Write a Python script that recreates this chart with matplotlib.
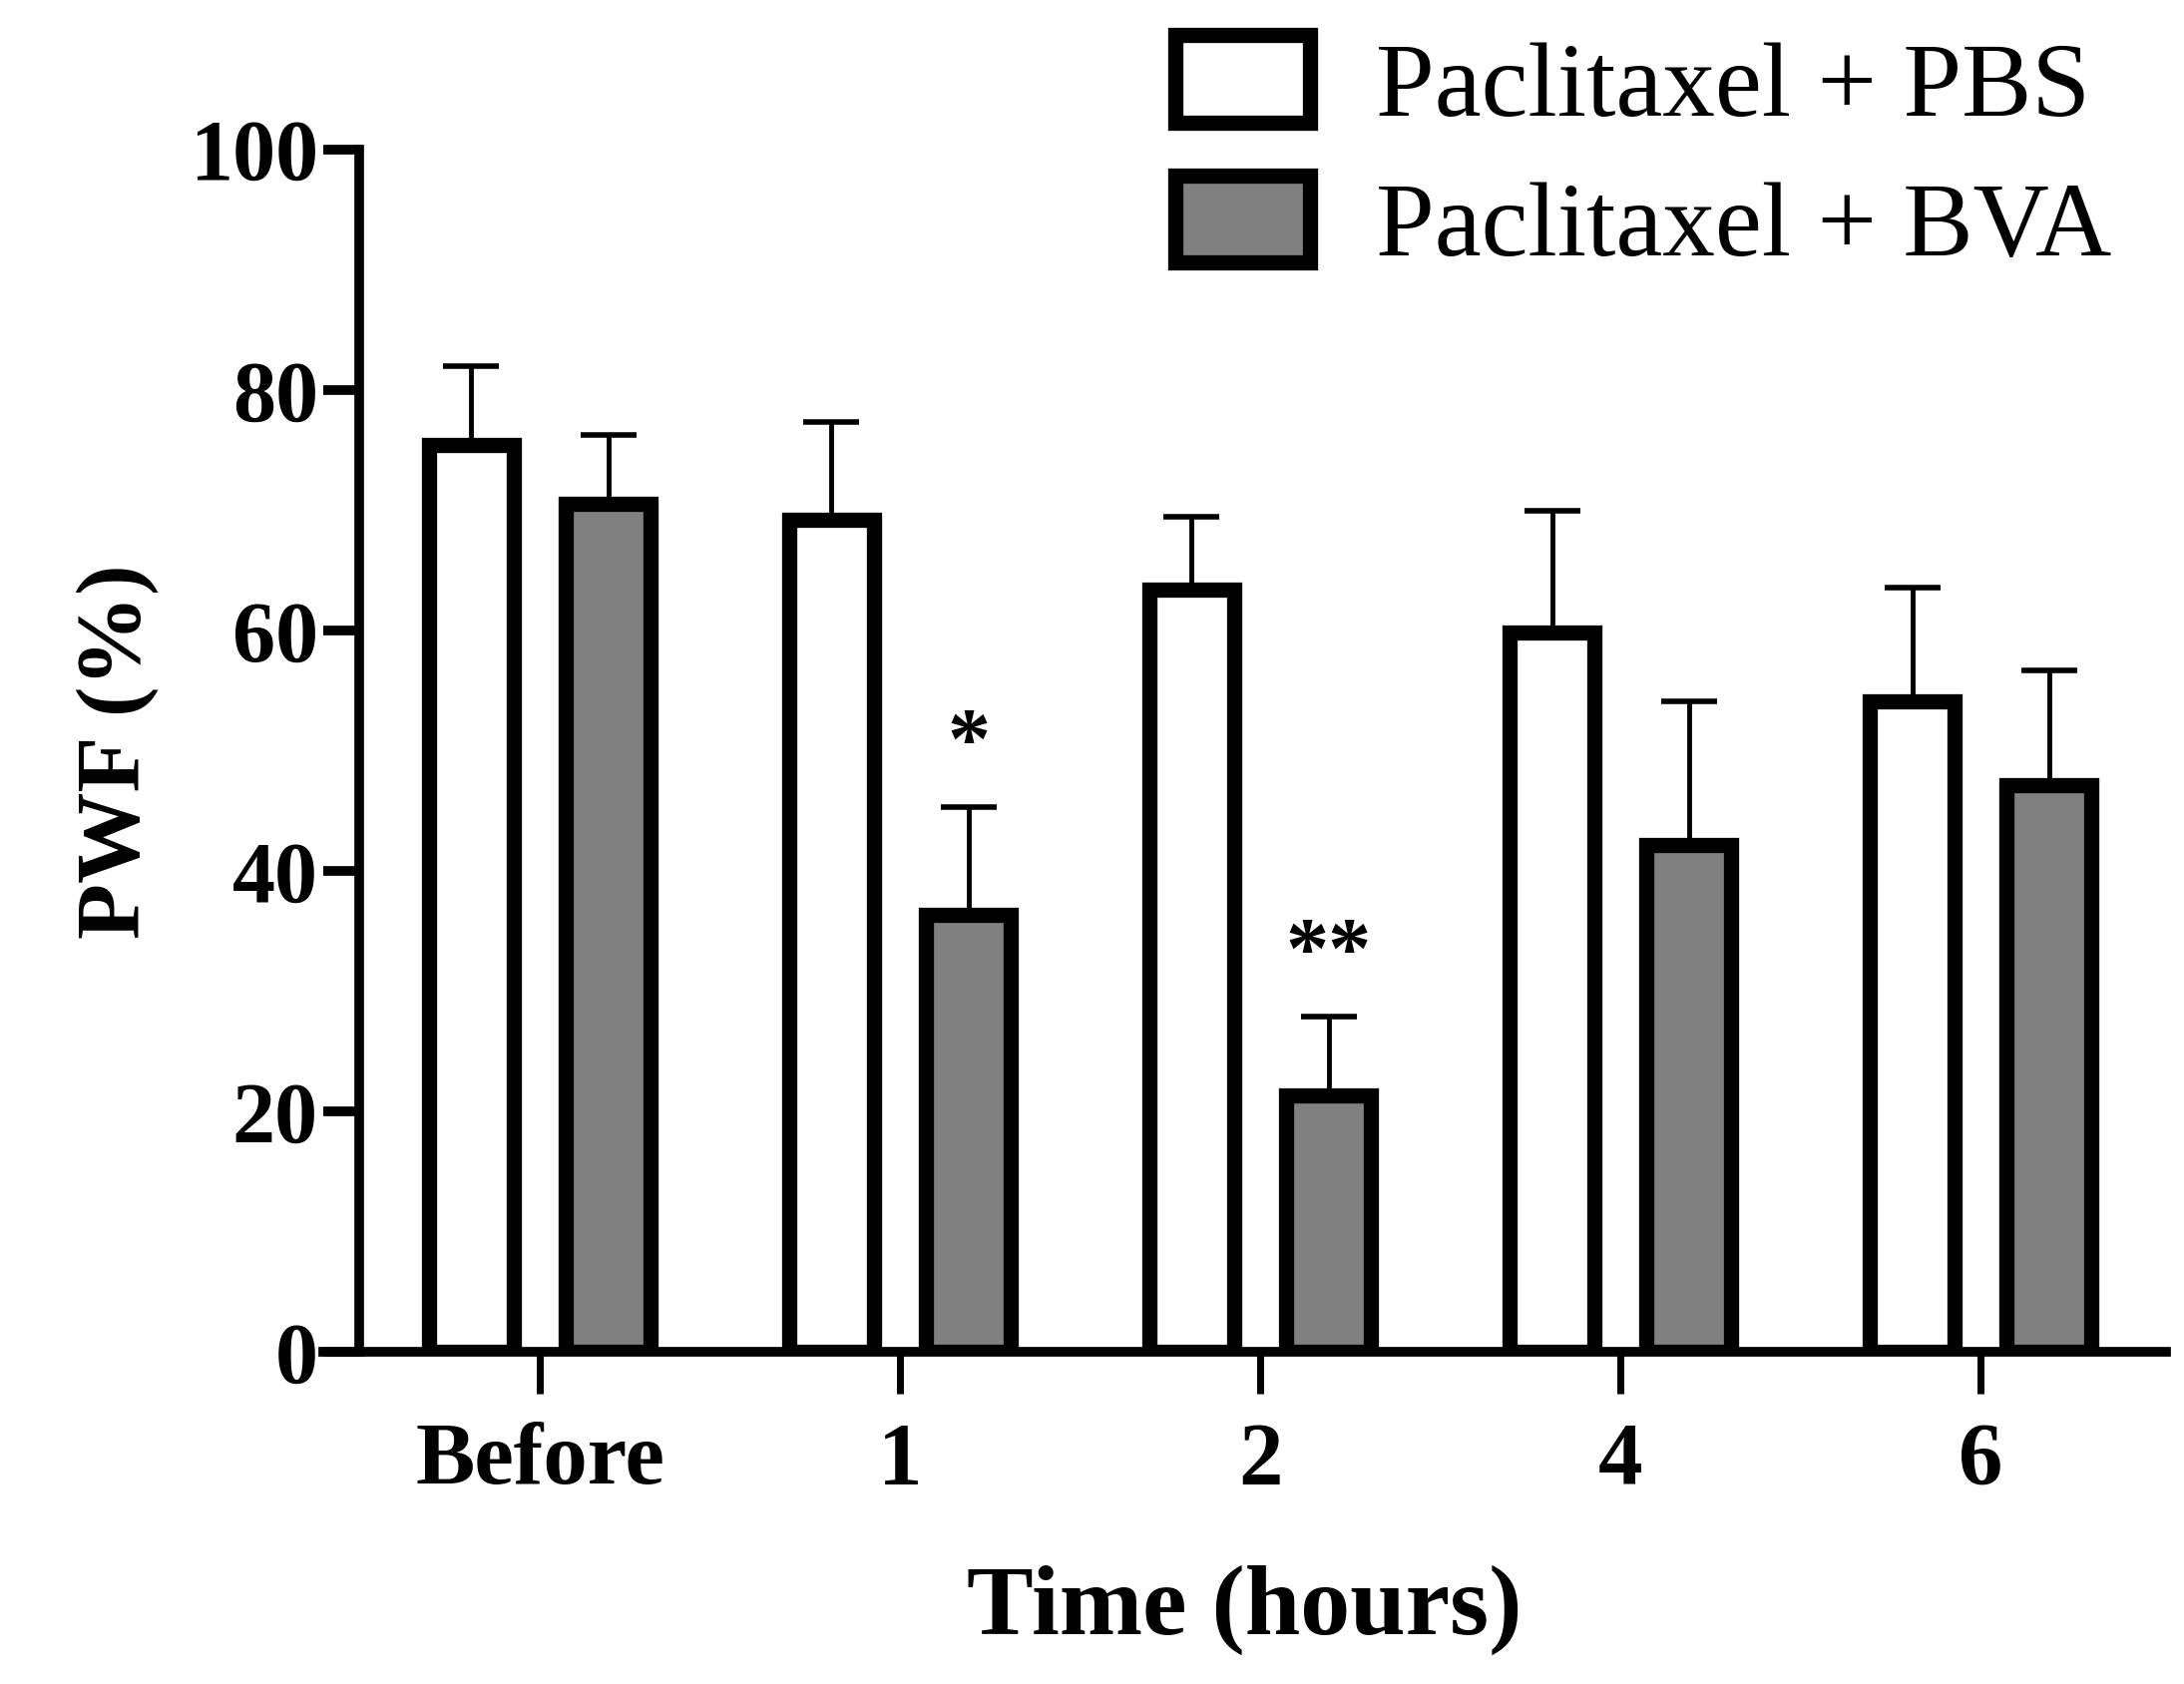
import matplotlib.pyplot as plt
import numpy as np

# data
groups = ["Before", "1", "2", "4", "6"]
pbs_mean = [75.5, 69.2, 63.4, 59.9, 54.1]
pbs_sem = [6.5, 8.2, 6.1, 10.1, 9.5]
bva_mean = [70.6, 36.4, 21.4, 42.2, 47.2]
bva_sem = [5.7, 8.9, 6.5, 11.9, 9.5]
stars = ["", "*", "**", "", ""]

plt.rcParams['font.family'] = ['Liberation Serif', 'DejaVu Serif']

fig = plt.figure(figsize=(21.89, 16.88), dpi=100)
ax = fig.add_axes([0.148, 0.197, 0.844, 0.714])

x = np.arange(len(groups))
w = 0.235
off = 0.19

ax.bar(x - off, pbs_mean, w, color="white", edgecolor="black", linewidth=11,
       label="Paclitaxel + PBS", zorder=3)
ax.bar(x + off, bva_mean, w, color="#808080", edgecolor="black", linewidth=11,
       label="Paclitaxel + BVA", zorder=3)

zeros = np.zeros(len(groups))
ax.errorbar(x - off, pbs_mean, yerr=[zeros, pbs_sem], fmt="none", ecolor="black",
            elinewidth=3.5, capsize=20, capthick=4, zorder=2)
ax.errorbar(x + off, bva_mean, yerr=[zeros, bva_sem], fmt="none", ecolor="black",
            elinewidth=3.5, capsize=20, capthick=4, zorder=2)

for i, s in enumerate(stars):
    if s:
        ax.text(x[i] + off, bva_mean[i] + bva_sem[i] + 1.8, s, ha="center", va="bottom",
                fontsize=62, fontweight="bold")

ax.set_xlim(-0.601, 4.516)
ax.set_ylim(0, 100)
ax.spines["left"].set_position(("data", -0.5))
ax.spines["top"].set_visible(False)
ax.spines["right"].set_visible(False)
ax.spines["left"].set_linewidth(7)
ax.spines["bottom"].set_linewidth(7)

ax.set_yticks([0, 20, 40, 60, 80, 100])
ax.set_xticks(x)
ax.set_xticklabels(groups)
ax.tick_params(axis="y", length=26, width=7, direction="out", pad=4, labelsize=62)
ax.tick_params(axis="x", length=30, width=5, direction="out", pad=20, labelsize=64)
for lab in ax.get_xticklabels() + ax.get_yticklabels():
    lab.set_fontweight("bold")

ax.set_xlabel("Time (hours)", fontsize=72, fontweight="bold", labelpad=45)
ax.set_ylabel("PWF (%)", fontsize=66, fontweight="bold", labelpad=22)

fig.legend(loc="upper left", bbox_to_anchor=(0.519, 1.004), frameon=False,
           fontsize=76, handlelength=1.28, handleheight=0.9, handletextpad=0.62,
           labelspacing=0.35, borderaxespad=0)

fig.savefig("out.png", dpi=100)
